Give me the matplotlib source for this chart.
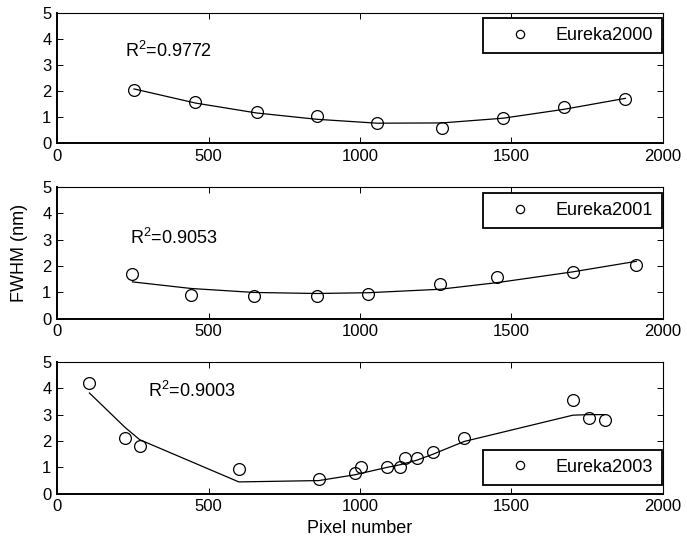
#!/usr/bin/env python

import matplotlib

matplotlib.use("Agg")
import matplotlib.pyplot as plt

# FWHM of the lines across the detector, one panel per campaign
x2000 = [254, 457, 659, 857, 1056, 1270, 1472, 1673, 1876]
y2000 = [2.05, 1.58, 1.21, 1.03, 0.78, 0.59, 0.96, 1.37, 1.71]
fit2000 = [2.08, 1.54, 1.16, 0.92, 0.77, 0.78, 0.96, 1.30, 1.72]

x2001 = [249, 443, 650, 857, 1028, 1263, 1451, 1702, 1912]
y2001 = [1.69, 0.90, 0.86, 0.85, 0.96, 1.33, 1.59, 1.79, 2.04]
fit2001 = [1.40, 1.15, 1.00, 0.96, 0.99, 1.12, 1.37, 1.78, 2.18]

x2003 = [107, 226, 273, 600, 864, 983, 1002, 1089, 1132, 1148, 1187, 1241,
         1343, 1703, 1755, 1808]
y2003 = [4.20, 2.12, 1.80, 0.95, 0.57, 0.79, 1.03, 1.02, 1.01, 1.36, 1.36,
         1.59, 2.13, 3.55, 2.89, 2.78]
fit2003 = [3.82, 2.50, 2.05, 0.45, 0.50, 0.72, 0.77, 1.00, 1.10, 1.15, 1.27,
           1.50, 1.98, 2.98, 3.00, 3.00]

r2_labels = ["R$^2$=0.9772", "R$^2$=0.9053", "R$^2$=0.9003"]
series_names = ["Eureka2000", "Eureka2001", "Eureka2003"]


def main():
    plt.rcParams.update(
        {
            "font.family": ["Liberation Sans", "DejaVu Sans"],
            "font.size": 12,
            "mathtext.fontset": "custom",
            "mathtext.rm": "Liberation Sans",
            "xtick.direction": "in",
            "ytick.direction": "in",
            "xtick.top": True,
            "ytick.right": True,
            "xtick.major.size": 4,
            "ytick.major.size": 4,
            "xtick.major.width": 0.7,
            "ytick.major.width": 0.7,
        }
    )

    fig = plt.figure(figsize=(6.87, 5.45), dpi=100)
    left, width = 0.083, 0.882
    rects = [
        (left, 0.737, width, 0.240),
        (left, 0.415, width, 0.242),
        (left, 0.094, width, 0.242),
    ]
    datasets = [
        (x2000, y2000, fit2000),
        (x2001, y2001, fit2001),
        (x2003, y2003, fit2003),
    ]
    r2_pos = [(224, 3.55), (241, 3.05), (301, 3.9)]
    leg_anchor = [
        ("upper right", (0.999, 0.955)),
        ("upper right", (0.999, 0.955)),
        ("lower right", (0.999, 0.068)),
    ]

    axes = []
    for i, rect in enumerate(rects):
        ax = fig.add_axes(rect)
        xs, ys, fit = datasets[i]
        ax.plot(xs, fit, color="black", lw=0.9)
        ax.plot(xs, ys, linestyle="none", marker="o", markersize=8.5,
                markerfacecolor="none", markeredgecolor="black",
                markeredgewidth=0.9, label=series_names[i])
        ax.set_xlim(0, 2000)
        ax.set_ylim(0, 5)
        ax.set_xticks([0, 500, 1000, 1500, 2000])
        ax.set_yticks([0, 1, 2, 3, 4, 5])
        ax.tick_params(pad=4)
        for side in ["top", "right"]:
            ax.spines[side].set_linewidth(0.8)
        for side in ["left", "bottom"]:
            ax.spines[side].set_linewidth(1.4)
        ax.text(r2_pos[i][0], r2_pos[i][1], r2_labels[i], va="center",
                ha="left", fontsize=13)

        loc, anchor = leg_anchor[i]
        leg = ax.legend(loc=loc, bbox_to_anchor=anchor, fancybox=False,
                        framealpha=1, edgecolor="black", handlelength=3.1,
                        handletextpad=0.45, borderpad=0.5, borderaxespad=0,
                        markerscale=0.7, fontsize=13)
        leg.get_frame().set_linewidth(1.3)
        axes.append(ax)

    axes[1].set_ylabel("FWHM (nm)", fontsize=13, labelpad=10)
    axes[2].set_xlabel("Pixel number", fontsize=13, labelpad=4)

    fig.savefig("out.png", dpi=100)


if __name__ == "__main__":
    main()
